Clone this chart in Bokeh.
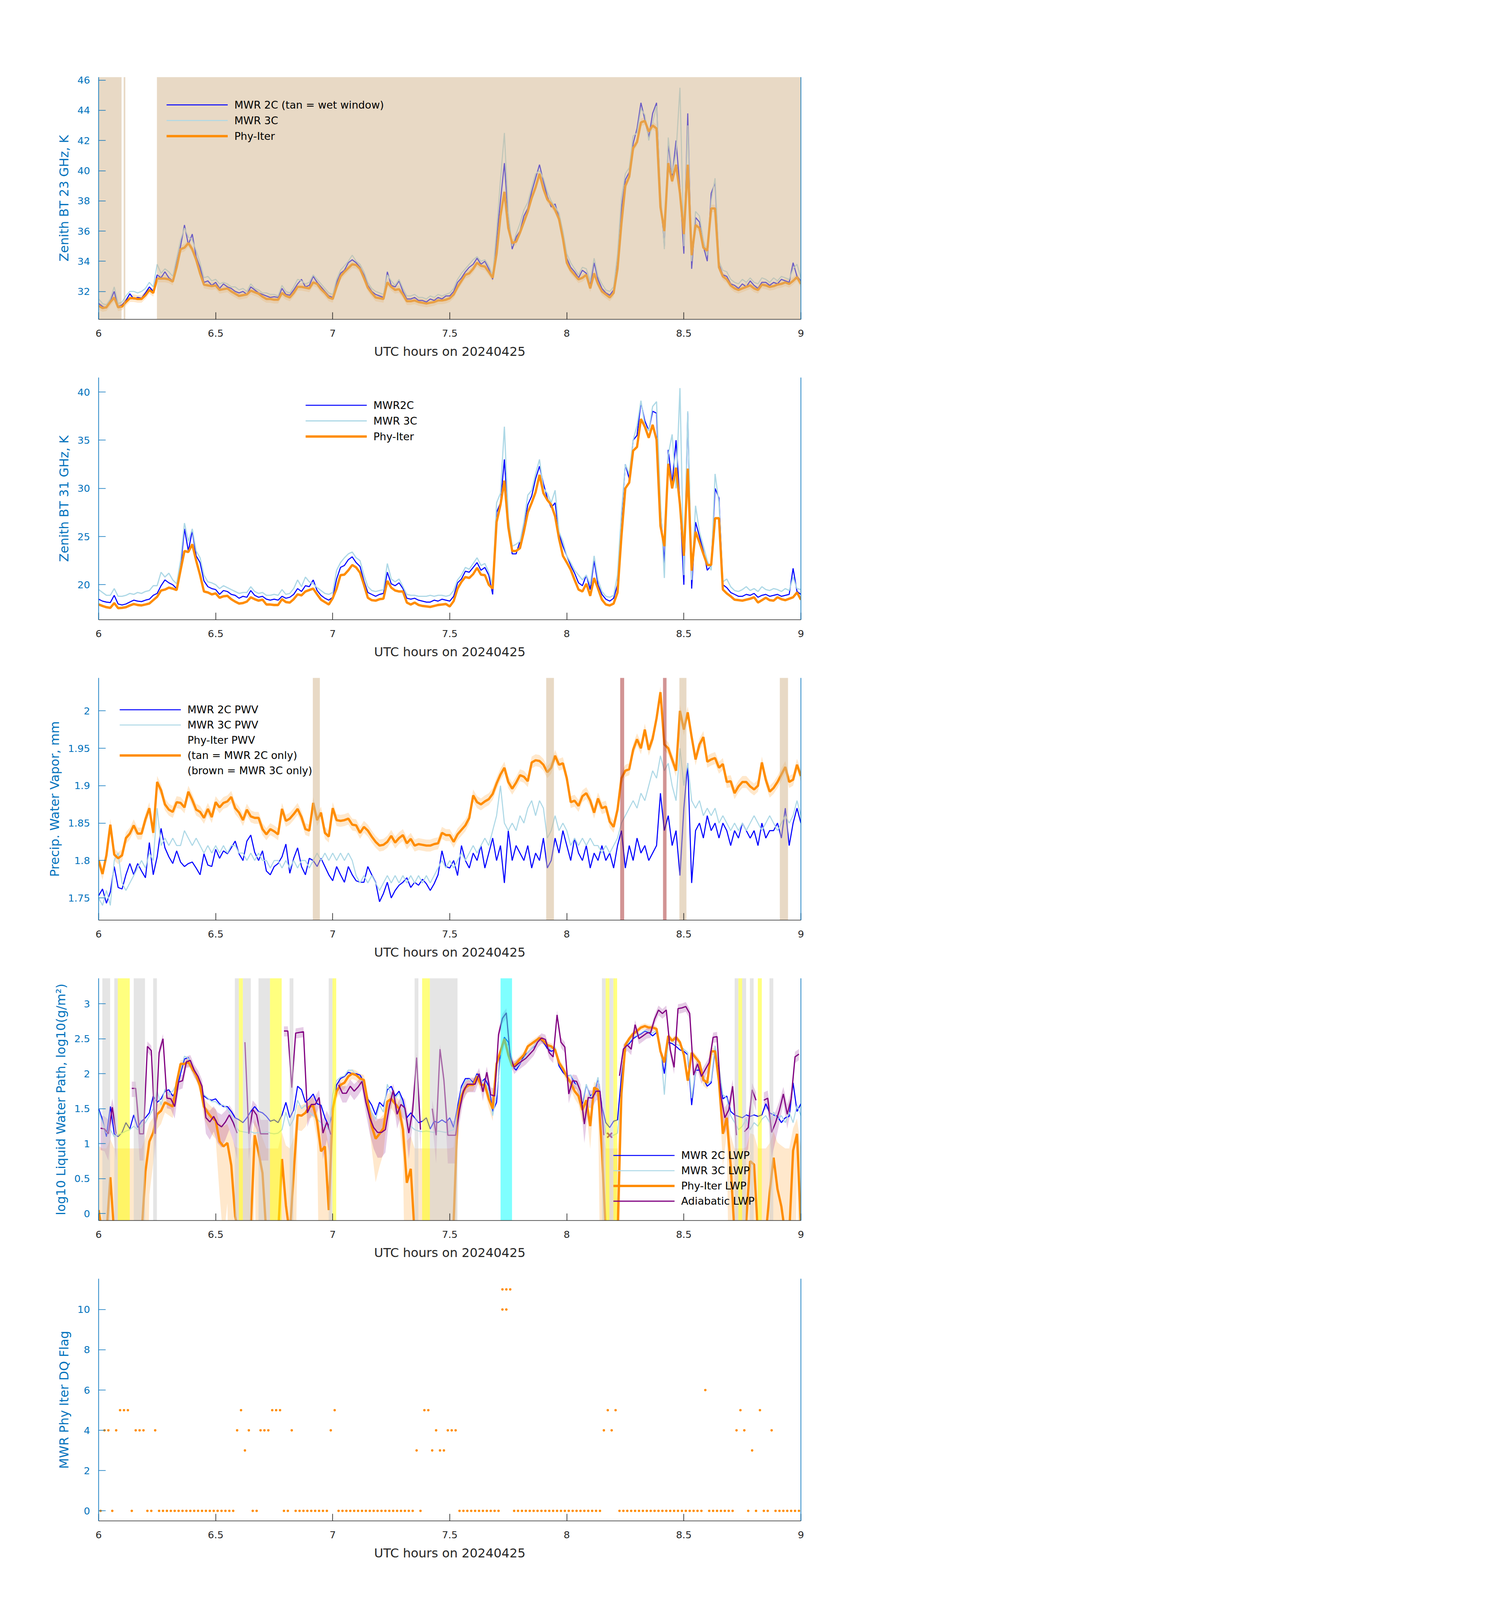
import numpy as np
from bokeh.plotting import figure
from bokeh.models import (Range1d, LinearAxis, FixedTicker, Legend, LegendItem,
                          CustomJSTickFormatter)
from bokeh.layouts import column
from bokeh.embed import file_html
from bokeh.resources import INLINE

# global pixel scale (the photographed page is only ~4090 px tall)
S = 0.684


def px(v):
    return v * S


def ipx(v):
    return int(round(v * S))


def fs(v):
    return "%.1fpx" % (v * S)


FONT = "DejaVu Sans"
BLUE = "#0000FF"
LBLUE = "#ADD8E6"
ORANGE = "#FF8C00"
PURPLE = "#800080"
AXBLUE = "#0072BD"
DARK = "#262626"
TAN = "#D2B48C"
BROWN = "#A52A2A"
GRAYC = "#CCCCCC"
YELLOW = "#FFFF00"
CYAN = "#00FFFF"

# time grids (hours UTC)
t_min = 6 + np.arange(181) / 60.0
t_half = 6 + (np.arange(180) + 0.5) / 60.0

XTICKS = [6, 6.5, 7, 7.5, 8, 8.5, 9]
XLABEL = "UTC hours on 20240425"

# ---------------- Panel 1: 23 GHz ----------------
bt23_phy = [31.05, 30.9, 30.95, 31.3, 31.6, 30.95, 31.0, 31.3, 31.55, 31.55,
            31.5, 31.5, 31.75, 32.1, 31.9, 32.85, 32.85, 32.85, 32.8, 32.65,
            33.6, 34.8, 34.9, 35.2, 34.8, 34.1, 33.2, 32.45, 32.4, 32.35,
            32.4, 32.1, 32.15, 32.2, 32.0, 31.85, 31.7, 31.75, 31.8, 32.05,
            31.95, 31.85, 31.65, 31.5, 31.5, 31.45, 31.45, 31.9, 31.7, 31.6,
            31.9, 32.3, 32.3, 32.25, 32.2, 32.6, 32.5, 32.15, 31.9, 31.6,
            31.5, 32.3, 33.0, 33.3, 33.55, 33.8, 33.75, 33.5, 32.9, 32.25,
            31.9, 31.6, 31.55, 31.5, 32.6, 32.3, 32.1, 32.15, 31.8, 31.35,
            31.35, 31.4, 31.3, 31.25, 31.2, 31.25, 31.3, 31.4, 31.4, 31.45,
            31.55, 31.8, 32.3, 32.7, 33.1, 33.2, 33.5, 33.9, 33.7, 33.65,
            33.3, 32.9, 34.5, 37.0, 38.6, 36.2, 35.2, 35.3, 35.9, 36.6,
            37.3, 38.2, 38.9, 39.8, 38.8, 38.1, 37.8, 37.4, 36.8, 35.5,
            33.9, 33.4, 33.1, 32.8, 32.9, 33.1, 32.2, 33.2, 32.5, 32.0,
            31.8, 31.6, 31.9, 33.5, 36.5, 39.0, 39.6, 41.5, 41.9, 43.2,
            43.3, 42.6, 43.0, 42.8, 37.6, 36.0, 40.5, 39.3, 40.4, 38.5,
            35.8, 40.4, 34.4, 36.4, 36.2, 34.9, 34.7, 37.5, 37.5, 33.6,
            33.0, 32.8, 32.4, 32.2, 32.1, 32.2, 32.3, 32.4, 32.2, 32.1,
            32.45, 32.4, 32.3, 32.35, 32.45, 32.5, 32.6, 32.5, 32.7, 32.95,
            32.5]
bt23_2c = [31.2, 31.0, 30.9, 31.4, 32.0, 31.0, 31.1, 31.4, 31.85, 31.5,
           31.6, 31.55, 31.9, 32.3, 32.0, 33.1, 32.9, 33.3, 32.9, 32.7,
           33.9, 35.0, 36.4, 35.1, 35.8, 34.3, 33.6, 32.6, 32.7, 32.4,
           32.6, 32.2, 32.5, 32.3, 32.2, 32.0, 31.9, 32.0, 31.8, 32.3,
           32.1, 31.9, 31.8, 31.7, 31.6, 31.65, 31.6, 32.2, 31.8, 31.75,
           32.1, 32.5, 32.8, 32.3, 32.4, 33.0, 32.6, 32.3, 32.0, 31.7,
           31.6, 32.6, 33.2, 33.4, 33.9, 34.1, 33.9, 33.6, 33.1, 32.4,
           32.0, 31.8, 31.7, 31.6, 33.3, 32.4, 32.3, 32.7, 32.0, 31.5,
           31.5, 31.6, 31.4, 31.4, 31.3, 31.5, 31.4, 31.6, 31.5, 31.7,
           31.7, 32.0, 32.6, 32.9, 33.3, 33.6, 33.8, 34.2, 33.8, 34.0,
           33.5, 32.8, 35.5, 38.0, 40.5, 36.8, 34.8, 35.6, 36.0, 37.0,
           37.5, 38.6, 39.5, 40.4, 39.3, 38.3, 37.6, 37.8, 36.9, 35.8,
           34.2, 33.6, 33.3, 32.9, 33.4, 33.2, 32.4, 33.9, 32.8, 32.2,
           31.9, 31.75, 32.1, 34.0, 37.5, 39.4, 39.9, 41.8, 42.8, 44.5,
           43.4, 42.2, 43.8, 44.5, 38.2, 35.0, 41.8, 39.6, 42.0, 38.8,
           34.5, 43.8, 33.5, 36.9, 36.6, 35.0, 34.0, 38.5, 39.2, 33.8,
           33.1, 33.0, 32.5, 32.4, 32.2, 32.5, 32.3, 32.7, 32.4, 32.2,
           32.6, 32.6, 32.4, 32.6, 32.5, 32.8, 32.7, 32.6, 33.9, 33.0,
           32.7]
bt23_3c = [31.5, 31.2, 31.1, 31.5, 32.3, 31.2, 31.3, 31.7, 32.0, 32.0,
           31.9, 32.0, 32.2, 32.6, 32.3, 33.8, 33.2, 33.5, 33.3, 33.0,
           34.2, 35.4, 36.2, 35.6, 35.4, 34.7, 33.9, 32.9, 33.0, 32.7,
           32.8, 32.5, 32.6, 32.5, 32.3, 32.3, 32.1, 32.2, 32.0, 32.5,
           32.2, 32.1, 31.9, 31.9, 31.8, 31.8, 31.7, 32.4, 32.0, 31.9,
           32.3, 32.8, 32.7, 32.5, 32.6, 33.1, 32.8, 32.5, 32.2, 31.9,
           31.8, 32.8, 33.4, 33.7, 34.0, 34.4, 34.0, 33.8, 33.3, 32.6,
           32.2, 32.0, 31.9, 31.8, 33.1, 32.7, 32.4, 32.8, 32.2, 31.7,
           31.7, 31.8, 31.6, 31.6, 31.5, 31.7, 31.6, 31.8, 31.7, 31.8,
           31.9, 32.2, 32.8, 33.2, 33.5, 33.8, 34.1, 34.3, 34.0, 34.1,
           33.7, 33.1, 36.0, 39.4, 42.5, 37.2, 35.0, 35.8, 36.5, 37.4,
           37.9, 38.9, 39.8, 40.0, 39.5, 38.6, 38.0, 37.6, 37.2, 36.0,
           34.5, 33.9, 33.5, 33.1, 33.6, 33.5, 32.7, 34.2, 33.0, 32.5,
           32.1, 32.0, 32.3, 34.5, 38.2, 39.8, 40.2, 42.3, 42.5, 44.1,
           43.7, 42.0, 43.2, 44.3, 38.6, 34.8, 42.2, 39.8, 41.2, 45.5,
           35.0, 43.0, 34.0, 37.3, 37.0, 35.4, 34.4, 38.0, 39.5, 34.0,
           33.4, 33.3, 32.8, 32.6, 32.5, 32.8, 32.6, 32.9, 32.6, 32.5,
           32.9, 32.8, 32.6, 32.9, 32.7, 33.0, 32.9, 32.8, 33.5, 33.8,
           32.9]
bt23_sigma = 0.25
wet_start = [6.0, 6.107, 6.249]
wet_end = [6.098, 6.114, 9.0]

# ---------------- Panel 2: 31 GHz ----------------
bt31_phy = [17.96, 17.8, 17.67, 17.6, 18.1, 17.57, 17.6, 17.67, 17.85, 18.0,
            17.9, 17.86, 17.95, 18.05, 18.4, 18.75, 19.4, 19.5, 19.7, 19.6,
            19.45, 21.5, 23.5, 23.4, 24.2, 22.5, 21.0, 19.3, 19.2, 19.0,
            19.1, 18.65, 18.8, 18.85, 18.5, 18.25, 18.05, 18.1, 18.25, 18.7,
            18.5, 18.35, 18.45, 17.95, 17.95, 17.9, 17.9, 18.5, 18.2, 18.15,
            18.5, 19.0, 18.9, 19.3, 19.45, 19.6, 19.0, 18.45, 18.2, 17.95,
            18.6, 19.6, 21.0, 21.05, 21.5, 22.05, 21.8, 21.25, 20.0, 18.65,
            18.4, 18.35, 18.5, 18.55, 20.4, 19.7, 19.4, 19.3, 19.3, 18.15,
            17.95, 18.15, 17.9, 17.8, 17.75, 17.7, 17.8, 17.9, 17.95, 18.0,
            17.75, 18.3, 19.6, 20.3, 20.8, 20.7, 21.1, 21.75, 21.05, 21.0,
            20.0, 19.6, 26.5, 28.3, 30.8, 26.0, 23.5, 23.5, 23.8, 25.5,
            27.5, 28.5, 29.6, 31.4, 29.5, 28.8, 28.3, 27.1, 24.8, 23.0,
            22.3, 21.55, 20.5, 19.5, 19.3, 20.1, 18.85, 20.7, 19.6, 18.45,
            17.95, 17.85, 18.05, 19.2, 25.0, 30.0, 30.6, 33.9, 34.3, 37.2,
            36.4, 35.25, 36.6, 35.05, 26.1, 24.0, 32.55, 30.0, 32.15, 28.3,
            23.0, 32.05, 21.45, 25.5, 24.4, 23.2, 22.05, 22.05, 26.9, 26.9,
            19.5, 19.1, 18.8, 18.45, 18.4, 18.35, 18.45, 18.55, 18.7, 18.15,
            18.4, 18.65, 18.4, 18.35, 18.7, 18.5, 18.4, 18.55, 18.7, 19.2,
            18.45]
bt31_2c = [18.5, 18.3, 18.2, 18.15, 18.9, 18.0, 17.9, 18.0, 18.2, 18.4,
           18.3, 18.25, 18.4, 18.5, 18.9, 19.1, 19.9, 20.5, 20.2, 20.0,
           19.6, 21.8, 25.8, 23.5, 25.6, 23.0, 22.3, 20.4, 19.8, 19.6,
           19.5, 19.0, 19.4, 19.3, 19.0, 18.9, 18.6, 18.8, 18.7, 19.4,
           18.9, 18.7, 18.8, 18.5, 18.4, 18.5, 18.4, 18.8, 18.6, 18.7,
           19.0, 19.6, 19.3, 19.9, 19.8, 20.5, 19.4, 18.9, 18.6, 18.4,
           18.7, 20.6, 21.8, 22.0, 22.6, 22.9, 22.3, 21.9, 20.4, 19.2,
           19.0, 18.8, 19.0, 19.1, 21.3, 20.1, 19.9, 20.2, 19.6, 18.6,
           18.5, 18.6, 18.4, 18.3, 18.2, 18.2, 18.4, 18.3, 18.5, 18.4,
           18.3, 18.8, 20.2, 20.6, 21.4, 21.3, 21.8, 22.3, 21.5, 21.8,
           21.0, 19.0, 27.5, 28.5, 33.0, 26.5, 23.2, 23.2, 24.5, 26.0,
           28.3, 29.2, 31.0, 32.3, 30.5, 29.0, 28.0, 28.5, 25.3, 24.0,
           23.0, 22.0, 21.2, 20.2, 19.9, 21.0, 19.5, 22.5, 20.0, 19.0,
           18.5, 18.3, 18.6, 20.0, 27.0, 32.5, 31.0, 35.0, 35.5, 38.9,
           37.0, 36.0, 38.0, 37.8, 28.0, 22.2, 34.0, 30.5, 35.0, 28.5,
           20.0, 37.8, 19.6, 26.5, 25.0, 23.5, 21.5, 22.0, 30.0, 29.0,
           20.0, 19.7, 19.2, 19.0, 18.8, 18.8, 19.0, 18.9, 19.1, 18.7,
           18.9, 19.0, 18.8, 18.9, 19.0, 18.8, 18.9, 19.0, 21.7, 19.3,
           19.0]
bt31_3c = [19.5, 19.2, 18.9, 18.9, 19.6, 18.8, 18.8, 18.9, 19.1, 19.0,
           19.2, 19.1, 19.3, 19.4, 19.9, 19.9, 21.3, 20.8, 21.2, 20.5,
           20.1, 22.5, 26.4, 24.5, 25.8, 23.5, 22.8, 21.0, 20.3, 20.2,
           20.0, 19.6, 19.9, 19.7, 19.5, 19.3, 19.1, 19.2, 19.2, 19.8,
           19.3, 19.1, 19.2, 18.9, 18.9, 19.0, 18.9, 19.5, 19.0, 19.1,
           19.6, 20.5, 19.8, 20.8, 20.3, 20.1, 19.7, 19.4, 19.1, 19.0,
           19.2, 21.5, 22.3, 22.8, 23.2, 23.4, 22.8, 22.5, 21.0, 19.8,
           19.4, 19.3, 19.4, 19.5, 22.2, 20.6, 20.3, 20.6, 19.8, 19.0,
           18.9, 18.9, 18.8, 18.8, 18.8, 18.9, 18.8, 18.9, 18.9, 18.8,
           18.9, 19.4, 20.5, 21.0, 21.8, 21.6, 22.2, 22.8, 22.0, 22.2,
           21.3, 20.0, 28.5, 29.5, 36.4, 27.0, 24.0, 24.2, 24.5, 26.5,
           29.3, 29.8, 31.5, 33.0, 30.0, 29.5, 28.5, 29.8, 25.5, 24.5,
           23.0, 22.3, 21.5, 21.0, 20.5, 21.0, 20.0, 23.0, 20.5, 19.3,
           18.8, 18.7, 18.9, 21.0, 27.5, 32.5, 31.5, 35.0, 36.5, 39.1,
           36.5, 36.0, 38.5, 39.0, 28.5, 20.7, 33.5, 35.6, 30.0, 40.4,
           21.0, 38.0, 20.5, 28.2, 25.5, 24.0, 22.5, 21.5, 31.5, 28.5,
           20.3, 20.6, 19.8, 19.4, 19.3, 19.5, 19.8, 19.4, 19.6, 19.3,
           19.8, 19.5, 19.4, 19.6, 19.5, 19.3, 19.6, 19.4, 20.8, 19.6,
           19.5]
bt31_sigma = 0.15

# ---------------- Panel 3: PWV ----------------
pwv_phy = [1.800, 1.782, 1.807, 1.848, 1.808, 1.803, 1.807, 1.830, 1.836, 1.847,
           1.836, 1.836, 1.855, 1.870, 1.837, 1.905, 1.894, 1.875, 1.868, 1.865,
           1.878, 1.877, 1.871, 1.892, 1.881, 1.868, 1.865, 1.857, 1.869, 1.858,
           1.878, 1.871, 1.877, 1.879, 1.885, 1.870, 1.864, 1.854, 1.868, 1.859,
           1.857, 1.857, 1.842, 1.835, 1.842, 1.839, 1.835, 1.869, 1.853, 1.856,
           1.862, 1.869, 1.858, 1.842, 1.840, 1.877, 1.854, 1.864, 1.837, 1.832,
           1.870, 1.854, 1.853, 1.854, 1.856, 1.848, 1.847, 1.837, 1.845, 1.840,
           1.832, 1.825, 1.820, 1.821, 1.825, 1.833, 1.824, 1.830, 1.834, 1.823,
           1.829, 1.820, 1.822, 1.821, 1.820, 1.820, 1.822, 1.823, 1.837, 1.834,
           1.834, 1.825, 1.835, 1.841, 1.847, 1.857, 1.887, 1.878, 1.875, 1.879,
           1.882, 1.889, 1.903, 1.915, 1.924, 1.905, 1.896, 1.904, 1.914, 1.912,
           1.906, 1.931, 1.934, 1.933, 1.928, 1.918, 1.924, 1.940, 1.928, 1.930,
           1.910, 1.878, 1.880, 1.873, 1.886, 1.890, 1.880, 1.864, 1.883, 1.870,
           1.872, 1.852, 1.845, 1.868, 1.910, 1.920, 1.922, 1.948, 1.962, 1.950,
           1.975, 1.948, 1.963, 1.990, 2.025, 1.955, 1.950, 1.935, 1.920, 2.000,
           1.975, 1.998, 1.965, 1.935, 1.955, 1.965, 1.932, 1.935, 1.937, 1.924,
           1.929, 1.905, 1.906, 1.890, 1.899, 1.905, 1.905, 1.899, 1.895, 1.900,
           1.931, 1.908, 1.892, 1.897, 1.905, 1.915, 1.925, 1.905, 1.908, 1.928,
           1.913]
pwv_2c = [1.753, 1.762, 1.743, 1.758, 1.792, 1.764, 1.762, 1.781, 1.796, 1.781,
          1.796, 1.786, 1.777, 1.824, 1.781, 1.805, 1.843, 1.817, 1.805, 1.796,
          1.813, 1.798, 1.792, 1.796, 1.798, 1.790, 1.781, 1.809, 1.794, 1.792,
          1.815, 1.803, 1.813, 1.809, 1.817, 1.826, 1.809, 1.800, 1.826, 1.834,
          1.811, 1.800, 1.813, 1.786, 1.781, 1.792, 1.796, 1.805, 1.822, 1.783,
          1.803, 1.817, 1.792, 1.781, 1.803, 1.800, 1.792, 1.803, 1.792, 1.781,
          1.773, 1.792, 1.781, 1.771, 1.792, 1.781, 1.773, 1.771, 1.771, 1.792,
          1.781, 1.771, 1.745, 1.756, 1.771, 1.750, 1.760, 1.767, 1.771, 1.777,
          1.764, 1.771, 1.767, 1.775, 1.769, 1.760, 1.769, 1.781, 1.813, 1.792,
          1.79, 1.80, 1.78, 1.82, 1.80, 1.79, 1.81, 1.80, 1.82, 1.79,
          1.81, 1.83, 1.80, 1.82, 1.77, 1.84, 1.80, 1.82, 1.81, 1.80,
          1.82, 1.79, 1.81, 1.80, 1.83, 1.79, 1.80, 1.83, 1.81, 1.84,
          1.82, 1.80, 1.83, 1.81, 1.80, 1.82, 1.79, 1.81, 1.80, 1.82,
          1.80, 1.81, 1.79, 1.82, 1.84, 1.79, 1.82, 1.80, 1.83, 1.81,
          1.82, 1.80, 1.81, 1.82, 1.89, 1.84, 1.86, 1.82, 1.84, 1.78,
          1.87, 1.93, 1.77, 1.84, 1.85, 1.83, 1.86, 1.84, 1.85, 1.83,
          1.85, 1.84, 1.82, 1.84, 1.83, 1.85, 1.84, 1.83, 1.84, 1.82,
          1.85, 1.83, 1.84, 1.84, 1.85, 1.83, 1.87, 1.82, 1.85, 1.87,
          1.85]
pwv_3c = [1.75, 1.74, 1.76, 1.74, 1.80, 1.81, 1.77, 1.76, 1.77, 1.78,
          1.79, 1.80, 1.79, 1.81, 1.80, 1.87, 1.82, 1.83, 1.82, 1.83,
          1.82, 1.82, 1.84, 1.83, 1.82, 1.83, 1.82, 1.81, 1.82, 1.81,
          1.82, 1.81, 1.82, 1.81, 1.82, 1.82, 1.81, 1.81, 1.80, 1.81,
          1.80, 1.81, 1.80, 1.80, 1.79, 1.80, 1.80, 1.79, 1.80, 1.79,
          1.80, 1.79, 1.80, 1.80, 1.79, 1.80, 1.81, 1.80, 1.81, 1.80,
          1.81, 1.80, 1.81, 1.80, 1.81, 1.80, 1.78, 1.77, 1.78, 1.77,
          1.78, 1.77, 1.76, 1.77, 1.78, 1.77, 1.78, 1.77, 1.78, 1.77,
          1.78, 1.77, 1.78, 1.77, 1.78, 1.77, 1.78, 1.79, 1.80, 1.79,
          1.80, 1.79, 1.80, 1.81, 1.80, 1.81, 1.82, 1.81, 1.82, 1.83,
          1.82, 1.84, 1.86, 1.90, 1.85, 1.84, 1.85, 1.84, 1.86, 1.85,
          1.87, 1.88, 1.86, 1.88, 1.87, 1.83, 1.84, 1.86, 1.84, 1.85,
          1.84, 1.82, 1.83, 1.82, 1.83, 1.82, 1.83, 1.82, 1.82, 1.81,
          1.82, 1.81, 1.82, 1.83, 1.85, 1.86, 1.87, 1.88, 1.87, 1.89,
          1.88, 1.90, 1.92, 1.91, 1.94, 1.92, 1.93, 1.90, 1.88, 1.95,
          1.90, 1.93, 1.88, 1.87, 1.88, 1.86, 1.87, 1.86, 1.87, 1.85,
          1.86, 1.85, 1.84, 1.85, 1.84, 1.85, 1.84, 1.85, 1.86, 1.85,
          1.84, 1.85, 1.86, 1.85, 1.84, 1.85, 1.86, 1.85, 1.86, 1.88,
          1.86]
pwv_sigma = 0.008
only2c_start = [6.915, 7.912, 8.481, 8.910]
only2c_end = [6.945, 7.945, 8.511, 8.945]
only3c_start = [8.228, 8.411]
only3c_end = [8.245, 8.426]

# ---------------- Panel 4: LWP (log10 g/m2) ----------------
lwp_2c = [1.50, 1.34, 1.10, 1.53, 1.14, 1.10, 1.16, 1.30, 1.21, 1.41,
          1.23, 1.32, 1.37, 1.44, 1.68, 1.59, 1.64, 1.75, 1.77, 1.68,
          1.77, 2.00, 2.21, 2.23, 2.05, 1.98, 1.84, 1.68, 1.64, 1.62,
          1.64, 1.57, 1.53, 1.53, 1.46, 1.37, 1.34, 1.30, 1.37, 1.46,
          1.53, 1.46, 1.44, 1.39, 1.32, 1.34, 1.30, 1.41, 1.59, 1.37,
          1.48, 1.82, 1.77, 1.59, 1.64, 1.71, 1.57, 1.55, 1.37, 1.25,
          1.44, 1.84, 1.93, 1.96, 2.02, 2.00, 2.00, 1.98, 1.87, 1.64,
          1.55, 1.41, 1.59, 1.53, 1.77, 1.82, 1.68, 1.75, 1.62, 1.37,
          1.44, 1.37, 1.30, 1.32, 1.37, 1.21, 1.32, 1.30, 1.34, 1.30,
          1.37, 1.23, 1.53, 1.82, 1.93, 1.93, 1.87, 2.00, 1.87, 1.93,
          1.82, 1.46, 1.59, 2.32, 2.52, 2.45, 2.11, 2.05, 2.14, 2.25,
          2.30, 2.36, 2.41, 2.50, 2.45, 2.36, 2.32, 2.34, 2.11, 2.02,
          1.96, 1.98, 1.87, 1.82, 1.57, 1.84, 1.68, 1.73, 1.93, 1.53,
          1.30, 1.23, 1.32, 1.34, 1.96, 2.39, 2.43, 2.50, 2.54, 2.57,
          2.61, 2.59, 2.54, 2.59, 2.32, 2.00, 2.45, 2.43, 2.39, 2.34,
          2.32, 2.27, 1.55, 2.05, 2.05, 1.93, 1.82, 1.87, 2.36, 2.05,
          1.64, 1.68, 1.46, 1.41, 1.39, 1.37, 1.41, 1.39, 1.41, 1.39,
          1.41, 1.57, 1.44, 1.41, 1.39, 1.30, 1.37, 1.39, 1.87, 1.46,
          1.57]
lwp_3c = [1.47, 1.30, 1.15, 1.20, 1.10, 1.13, 1.15, 1.18, 1.20, 1.25,
          1.20, 1.25, 1.30, 1.40, 1.50, 1.75, 1.55, 1.78, 1.70, 1.75,
          1.85, 2.05, 2.25, 2.22, 2.08, 2.00, 1.85, 1.70, 1.65, 1.60,
          1.60, 1.55, 1.55, 1.50, 1.40, 1.25, 1.18, 1.17, 1.16, 1.17,
          1.15, 1.16, 1.15, 1.17, 1.15, 1.14, 1.15, 1.20, 1.45, 1.25,
          1.35, 1.62, 1.50, 1.55, 1.45, 1.40, 1.35, 1.30, 1.25, 1.20,
          1.70, 1.90, 1.95, 1.97, 2.05, 2.05, 1.98, 1.95, 1.85, 1.60,
          1.45, 1.35, 1.55, 1.45, 1.85, 1.70, 1.65, 1.72, 1.55, 1.30,
          1.25, 1.20, 1.18, 1.17, 1.18, 1.17, 1.16, 1.18, 1.17, 1.16,
          1.18, 1.20, 1.45, 1.78, 1.90, 1.92, 1.85, 1.98, 1.88, 1.90,
          1.75, 1.40, 1.70, 2.20, 2.45, 2.40, 2.10, 2.08, 2.15, 2.22,
          2.30, 2.36, 2.42, 2.50, 2.47, 2.40, 2.35, 2.38, 2.15, 2.05,
          1.95, 1.98, 1.90, 1.80, 1.60, 1.85, 1.65, 1.75, 1.95, 1.45,
          1.15, 1.12, 1.12, 1.15, 1.70, 2.40, 2.45, 2.52, 2.55, 2.58,
          2.62, 2.60, 2.58, 2.62, 2.40, 1.70, 2.50, 2.48, 2.42, 2.40,
          2.35, 2.30, 1.65, 2.05, 2.10, 1.95, 1.85, 1.90, 2.40, 2.10,
          1.70, 1.65, 1.40, 1.30, 1.20, 1.25, 1.35, 1.20, 1.30, 1.25,
          1.35, 1.40, 1.30, 1.45, 1.35, 1.40, 1.30, 1.45, 1.30, 1.55,
          1.40]
lwp_phy = [0.05, -0.3, -0.3, 0.52, -0.3, -0.3, -0.3, -0.3, -0.3, -0.3,
           -0.3, -0.3, 0.6, 1.03, 1.16, 1.42, 1.47, 1.59, 1.56, 1.53,
           1.87, 2.14, 2.14, 2.17, 2.07, 1.98, 1.82, 1.53, 1.44, 1.37,
           1.33, 1.03, 0.96, 1.01, 0.69, -0.04, -0.3, -0.3, -0.3, -0.2,
           1.12, 0.87, 0.58, -0.3, -0.3, -0.3, -0.3, 0.78, 0.12, -0.3,
           0.58, 1.41, 1.40, 1.44, 1.53, 1.54, 1.32, 0.89, 0.96, 0.05,
           1.50, 1.75, 1.84, 1.87, 1.96, 2.00, 1.98, 1.93, 1.91, 1.59,
           1.25, 1.07, 1.14, 1.22, 1.60, 1.64, 1.57, 1.50, 1.20, 0.44,
           0.64, -0.3, -0.3, -0.3, -0.3, -0.3, -0.3, -0.3, -0.3, -0.3,
           -0.3, -0.1, 1.41, 1.68, 1.80, 1.84, 1.84, 1.96, 1.84, 1.84,
           1.64, 1.50, 2.14, 2.32, 2.50, 2.27, 2.11, 2.14, 2.21, 2.27,
           2.39, 2.43, 2.47, 2.51, 2.47, 2.41, 2.39, 2.34, 2.16, 2.07,
           1.96, 1.87, 1.75, 1.68, 1.48, 1.62, 1.25, 1.80, 1.77, 0.91,
           -0.3, -0.3, -0.3, -0.3, 1.71, 2.41, 2.50, 2.57, 2.61, 2.66,
           2.68, 2.66, 2.66, 2.64, 2.32, 2.16, 2.54, 2.47, 2.52, 2.45,
           2.27, 1.90, 2.30, 2.23, 2.16, 1.91, 1.87, 2.32, 2.32, 1.89,
           1.14, 1.37, 0.69, -0.3, -0.3, -0.3, -0.1, 0.75, 0.70, -0.3,
           -0.3, -0.3, 0.30, 0.80, 0.35, 0.10, -0.3, -0.3, 0.90, 1.14,
           -0.2]
lwp_adiab = [1.22, 1.21, 1.14, 1.52, 1.14, None, None, None, 1.79, 1.79,
             1.14, 1.14, 2.39, 2.33, 1.14, 2.30, 2.50, 1.65, 1.64, 1.53,
             1.88, 1.90, 2.17, 2.19, 2.05, 1.96, 1.82, 1.37, 1.31, 1.39,
             1.28, 1.24, 1.31, 1.41, 1.30, 1.15, None, 2.45, 1.14, 1.49,
             1.41, 1.14, 1.14, 1.14, None, None, None, 2.61, 2.61, 1.80,
             2.58, 2.59, 2.60, 1.44, 1.56, 1.56, 1.66, 1.15, 1.31, 1.13,
             None, 1.84, 1.72, 1.72, 1.82, 1.75, 1.81, 1.89, 1.59, 1.37,
             1.23, 1.16, 1.16, 1.20, 1.53, 1.76, 1.42, 1.56, 1.51, 1.15,
             1.48, 2.23, 1.20, None, None, 1.50, 1.12, 2.35, 1.91, 1.12,
             1.12, 1.12, 1.48, 1.75, 1.85, 1.85, 1.85, 2.00, 1.74, 2.02,
             1.70, 1.68, 2.56, 2.79, 2.87, 2.25, 2.09, 2.14, 2.18, 2.22,
             2.28, 2.34, 2.45, 2.51, 2.49, 2.30, 2.24, 2.84, 2.45, 2.38,
             1.71, 1.90, 1.89, 1.75, 1.28, 1.66, 1.65, 1.75, 1.75, 1.12,
             None, None, None, 1.97, 2.35, 2.41, 2.35, 2.70, 2.50, 2.54,
             2.58, 2.59, 2.78, 2.91, 2.86, 2.91, 2.34, 2.09, 2.93, 2.94,
             2.96, 2.86, 1.98, 2.14, 1.96, 2.06, 2.16, 2.52, 2.53, 1.68,
             1.37, 1.48, 1.82, 1.12, None, 1.17, 1.23, 1.77, 1.62, None,
             1.62, 1.65, 1.16, 1.30, 1.48, 1.71, 1.42, 1.64, 2.24, 2.28]
lwp_phy_abs_err = 8.0      # g/m2
lwp_phy_rel_err = 0.08
lwp_adi_abs_err = 6.0
lwp_adi_rel_err = 0.15
bad_t = [8.183]
bad_v = [1.12]
gray_start = [6.016, 6.067, 6.150, 6.233, 6.582, 6.616, 6.683, 6.816, 6.983,
              7.350, 7.415, 8.150, 8.182, 8.717, 8.749, 8.782, 8.866]
gray_end = [6.049, 6.082, 6.198, 6.249, 6.599, 6.650, 6.732, 6.832, 6.999,
            7.366, 7.533, 8.166, 8.199, 8.733, 8.766, 8.798, 8.882]
yel_start = [6.082, 6.599, 6.732, 6.999, 7.382, 8.166, 8.199, 8.733, 8.816]
yel_end = [6.133, 6.616, 6.782, 7.015, 7.415, 8.182, 8.215, 8.749, 8.833]
cyan_start = [7.717]
cyan_end = [7.766]

# ---------------- Panel 5: DQ flag ----------------
dq_flag = [0, 4, 4, 0, 4, 5, 5, 5, 0, 4,
           4, 4, 0, 0, 4, 0, 0, 0, 0, 0,
           0, 0, 0, 0, 0, 0, 0, 0, 0, 0,
           0, 0, 0, 0, 0, 4, 5, 3, 4, 0,
           0, 4, 4, 4, 5, 5, 5, 0, 0, 4,
           0, 0, 0, 0, 0, 0, 0, 0, 0, 4,
           5, 0, 0, 0, 0, 0, 0, 0, 0, 0,
           0, 0, 0, 0, 0, 0, 0, 0, 0, 0,
           0, 3, 0, 5, 5, 3, 4, 3, 3, 4,
           4, 4, 0, 0, 0, 0, 0, 0, 0, 0,
           0, 0, 0, 11, 11, 11, 0, 0, 0, 0,
           0, 0, 0, 0, 0, 0, 0, 0, 0, 0,
           0, 0, 0, 0, 0, 0, 0, 0, 0, 4,
           5, 4, 5, 0, 0, 0, 0, 0, 0, 0,
           0, 0, 0, 0, 0, 0, 0, 0, 0, 0,
           0, 0, 0, 0, 0, 6, 0, 0, 0, 0,
           0, 0, 0, 4, 5, 4, 0, 3, 0, 5,
           0, 0, 4, 0, 0, 0, 0, 0, 0, 0]
dq_extra_idx = [103, 104]
dq_extra_val = [10, 10]

# ======================================================================
FRAME_W, FRAME_H = ipx(2628), ipx(907)
BORDER_L, BORDER_R, BORDER_B = ipx(368), ipx(813), ipx(170)
TOP_FIRST, TOP_REST = 288, 48


def make_fig(ylo, yhi, yticks, ylabel, top):
    p = figure(frame_width=FRAME_W, frame_height=FRAME_H,
               x_range=Range1d(6, 9), y_range=Range1d(ylo, yhi),
               output_backend="svg", toolbar_location=None,
               min_border_left=BORDER_L, min_border_right=BORDER_R,
               min_border_top=ipx(top), min_border_bottom=BORDER_B)
    p.outline_line_color = None
    p.grid.visible = False
    p.background_fill_color = "white"
    p.border_fill_color = "white"
    xa = p.xaxis[0]
    xa.ticker = FixedTicker(ticks=XTICKS)
    xa.formatter = CustomJSTickFormatter(code="return String(tick);")
    xa.axis_label = XLABEL
    xa.axis_line_color = DARK
    xa.axis_line_width = px(2.5)
    xa.major_tick_line_color = DARK
    xa.major_tick_line_width = px(2.5)
    xa.major_tick_in = ipx(27)
    xa.major_tick_out = 0
    xa.minor_tick_line_color = None
    xa.major_label_text_font = FONT
    xa.major_label_text_font_size = fs(37)
    xa.major_label_text_color = DARK
    xa.major_label_standoff = ipx(38)
    xa.axis_label_text_font = FONT
    xa.axis_label_text_font_size = fs(47)
    xa.axis_label_text_font_style = "normal"
    xa.axis_label_text_color = DARK
    xa.axis_label_standoff = ipx(24)

    ya = p.yaxis[0]
    ya.ticker = FixedTicker(ticks=yticks)
    ya.formatter = CustomJSTickFormatter(code="return String(tick);")
    ya.axis_label = ylabel
    ya.axis_line_color = AXBLUE
    ya.axis_line_width = px(2.5)
    ya.major_tick_line_color = AXBLUE
    ya.major_tick_line_width = px(2.5)
    ya.major_tick_in = ipx(27)
    ya.major_tick_out = 0
    ya.minor_tick_line_color = None
    ya.major_label_text_font = FONT
    ya.major_label_text_font_size = fs(37)
    ya.major_label_text_color = AXBLUE
    ya.major_label_standoff = ipx(32)
    ya.axis_label_text_font = FONT
    ya.axis_label_text_font_size = fs(47)
    ya.axis_label_text_font_style = "normal"
    ya.axis_label_text_color = AXBLUE
    ya.axis_label_standoff = ipx(18)

    ra = LinearAxis(ticker=FixedTicker(ticks=[]), axis_line_color=AXBLUE,
                    axis_line_width=px(2.5), major_tick_line_color=None,
                    minor_tick_line_color=None, major_label_text_alpha=0)
    p.add_layout(ra, "right")
    return p


def shade(p, starts, ends, color, alpha, ylo, yhi):
    p.quad(left=starts, right=ends, bottom=[ylo - 100] * len(starts),
           top=[yhi + 100] * len(starts), fill_color=color, fill_alpha=alpha,
           line_color=None)


def band_segments(p, x, lo, hi, color, alpha):
    x = np.asarray(x, float)
    lo = np.asarray(lo, float)
    hi = np.asarray(hi, float)
    ok = np.isfinite(lo) & np.isfinite(hi)
    idx = np.where(ok)[0]
    if len(idx) == 0:
        return
    runs = np.split(idx, np.where(np.diff(idx) != 1)[0] + 1)
    for r in runs:
        if len(r) > 1:
            p.varea(x=x[r], y1=lo[r], y2=hi[r], fill_color=color,
                    fill_alpha=alpha)


def add_legend(p, items, x, y, pitch):
    leg = Legend(items=items, location=(ipx(x), ipx(y)),
                 orientation="vertical",
                 glyph_width=ipx(230), glyph_height=ipx(pitch),
                 label_height=ipx(pitch), spacing=0,
                 label_standoff=ipx(25), padding=0, margin=0,
                 background_fill_alpha=0, border_line_color=None,
                 label_text_font=FONT, label_text_font_size=fs(39),
                 label_text_color="black")
    p.add_layout(leg)
    return leg


def f(a):
    return np.array([np.nan if v is None else v for v in a], dtype=float)


def blank_glyph(p):
    # invisible renderer used only for a text-only legend row
    return p.line(x=[np.nan, np.nan], y=[np.nan, np.nan], line_alpha=0)


W_2C, W_3C, W_PHY, W_ADI = px(4), px(4), px(8.5), px(4.5)

# ---------------- Panel 1 ----------------
y1lo, y1hi = 30.15, 46.2
p1 = make_fig(y1lo, y1hi, [32, 34, 36, 38, 40, 42, 44, 46],
              "Zenith BT 23 GHz, K", TOP_FIRST)
ph = f(bt23_phy)
p1.varea(x=t_min, y1=ph - bt23_sigma, y2=ph + bt23_sigma,
         fill_color=ORANGE, fill_alpha=0.2)
r1a = p1.line(t_min, bt23_2c, line_color=BLUE, line_width=W_2C)
r1b = p1.line(t_min, bt23_3c, line_color=LBLUE, line_width=W_3C)
r1c = p1.line(t_min, bt23_phy, line_color=ORANGE, line_width=W_PHY)
shade(p1, wet_start, wet_end, TAN, 0.5, y1lo, y1hi)
add_legend(p1, [LegendItem(label="MWR 2C (tan = wet window)", renderers=[r1a]),
                LegendItem(label="MWR 3C", renderers=[r1b]),
                LegendItem(label="Phy-Iter", renderers=[r1c])],
           255, 656, 59)

# ---------------- Panel 2 ----------------
y2lo, y2hi = 16.37, 41.5
p2 = make_fig(y2lo, y2hi, [20, 25, 30, 35, 40], "Zenith BT 31 GHz, K", TOP_REST)
ph = f(bt31_phy)
p2.varea(x=t_min, y1=ph - bt31_sigma, y2=ph + bt31_sigma,
         fill_color=ORANGE, fill_alpha=0.2)
r2a = p2.line(t_min, bt31_2c, line_color=BLUE, line_width=W_2C)
r2b = p2.line(t_min, bt31_3c, line_color=LBLUE, line_width=px(4.5))
r2c = p2.line(t_min, bt31_phy, line_color=ORANGE, line_width=W_PHY)
add_legend(p2, [LegendItem(label="MWR2C", renderers=[r2a]),
                LegendItem(label="MWR 3C", renderers=[r2b]),
                LegendItem(label="Phy-Iter", renderers=[r2c])],
           775, 656, 59)

# ---------------- Panel 3 ----------------
y3lo, y3hi = 1.7204, 2.044
p3 = make_fig(y3lo, y3hi, [1.75, 1.8, 1.85, 1.9, 1.95, 2],
              "Precip. Water Vapor, mm", TOP_REST)
ph = f(pwv_phy)
p3.varea(x=t_min, y1=ph - pwv_sigma, y2=ph + pwv_sigma,
         fill_color=ORANGE, fill_alpha=0.2)
r3a = p3.line(t_min, pwv_2c, line_color=BLUE, line_width=W_2C)
r3b = p3.line(t_min, pwv_3c, line_color=LBLUE, line_width=W_3C)
r3c = p3.line(t_min, pwv_phy, line_color=ORANGE, line_width=W_PHY)
shade(p3, only2c_start, only2c_end, TAN, 0.5, y3lo, y3hi)
shade(p3, only3c_start, only3c_end, BROWN, 0.5, y3lo, y3hi)
g3a = blank_glyph(p3)
g3b = blank_glyph(p3)
add_legend(p3, [LegendItem(label="MWR 2C PWV", renderers=[r3a]),
                LegendItem(label="MWR 3C PWV", renderers=[r3b]),
                LegendItem(label="Phy-Iter PWV", renderers=[g3a]),
                LegendItem(label="(tan = MWR 2C only)", renderers=[r3c]),
                LegendItem(label="(brown = MWR 3C only)", renderers=[g3b])],
           79, 530, 57)

# ---------------- Panel 4 ----------------
y4lo, y4hi = -0.099, 3.363
p4 = make_fig(y4lo, y4hi, [0, 0.5, 1, 1.5, 2, 2.5, 3],
              "log10 Liquid Water Path, log10(g/m\u00b2)", TOP_REST)
Lp = 10 ** f(lwp_phy)
sp = lwp_phy_abs_err + lwp_phy_rel_err * Lp
band_segments(p4, t_min, np.log10(np.maximum(Lp - sp, 1e-3)), np.log10(Lp + sp),
              ORANGE, 0.2)
La = 10 ** f(lwp_adiab)
sa = lwp_adi_abs_err + lwp_adi_rel_err * La
band_segments(p4, t_half, np.log10(np.maximum(La - sa, 1e-3)), np.log10(La + sa),
              PURPLE, 0.2)
r4a = p4.line(t_min, lwp_2c, line_color=BLUE, line_width=W_2C)
r4b = p4.line(t_min, lwp_3c, line_color=LBLUE, line_width=W_3C)
r4c = p4.line(t_min, lwp_phy, line_color=ORANGE, line_width=W_PHY)
r4d = p4.line(t_half, f(lwp_adiab), line_color=PURPLE, line_width=W_ADI)
p4.scatter(bad_t, bad_v, marker="x", size=px(26), line_color=PURPLE,
           line_width=px(6))
shade(p4, gray_start, gray_end, GRAYC, 0.5, y4lo, y4hi)
shade(p4, yel_start, yel_end, YELLOW, 0.5, y4lo, y4hi)
shade(p4, cyan_start, cyan_end, CYAN, 0.5, y4lo, y4hi)
add_legend(p4, [LegendItem(label="MWR 2C LWP", renderers=[r4a]),
                LegendItem(label="MWR 3C LWP", renderers=[r4b]),
                LegendItem(label="Phy-Iter LWP", renderers=[r4c]),
                LegendItem(label="Adiabatic LWP", renderers=[r4d])],
           1927, 44, 57)

# ---------------- Panel 5 ----------------
y5lo, y5hi = -0.5, 11.53
p5 = make_fig(y5lo, y5hi, [0, 2, 4, 6, 8, 10], "MWR Phy Iter DQ Flag", TOP_REST)
p5.scatter(t_half, dq_flag, marker="circle", size=px(9), fill_color=ORANGE,
           line_color=None)
p5.scatter([t_half[i] for i in dq_extra_idx], dq_extra_val, marker="circle",
           size=px(9), fill_color=ORANGE, line_color=None)

layout = column(p1, p2, p3, p4, p5, spacing=0)
open("out.html", "w").write(file_html(layout, INLINE, "MWR retrievals"))
